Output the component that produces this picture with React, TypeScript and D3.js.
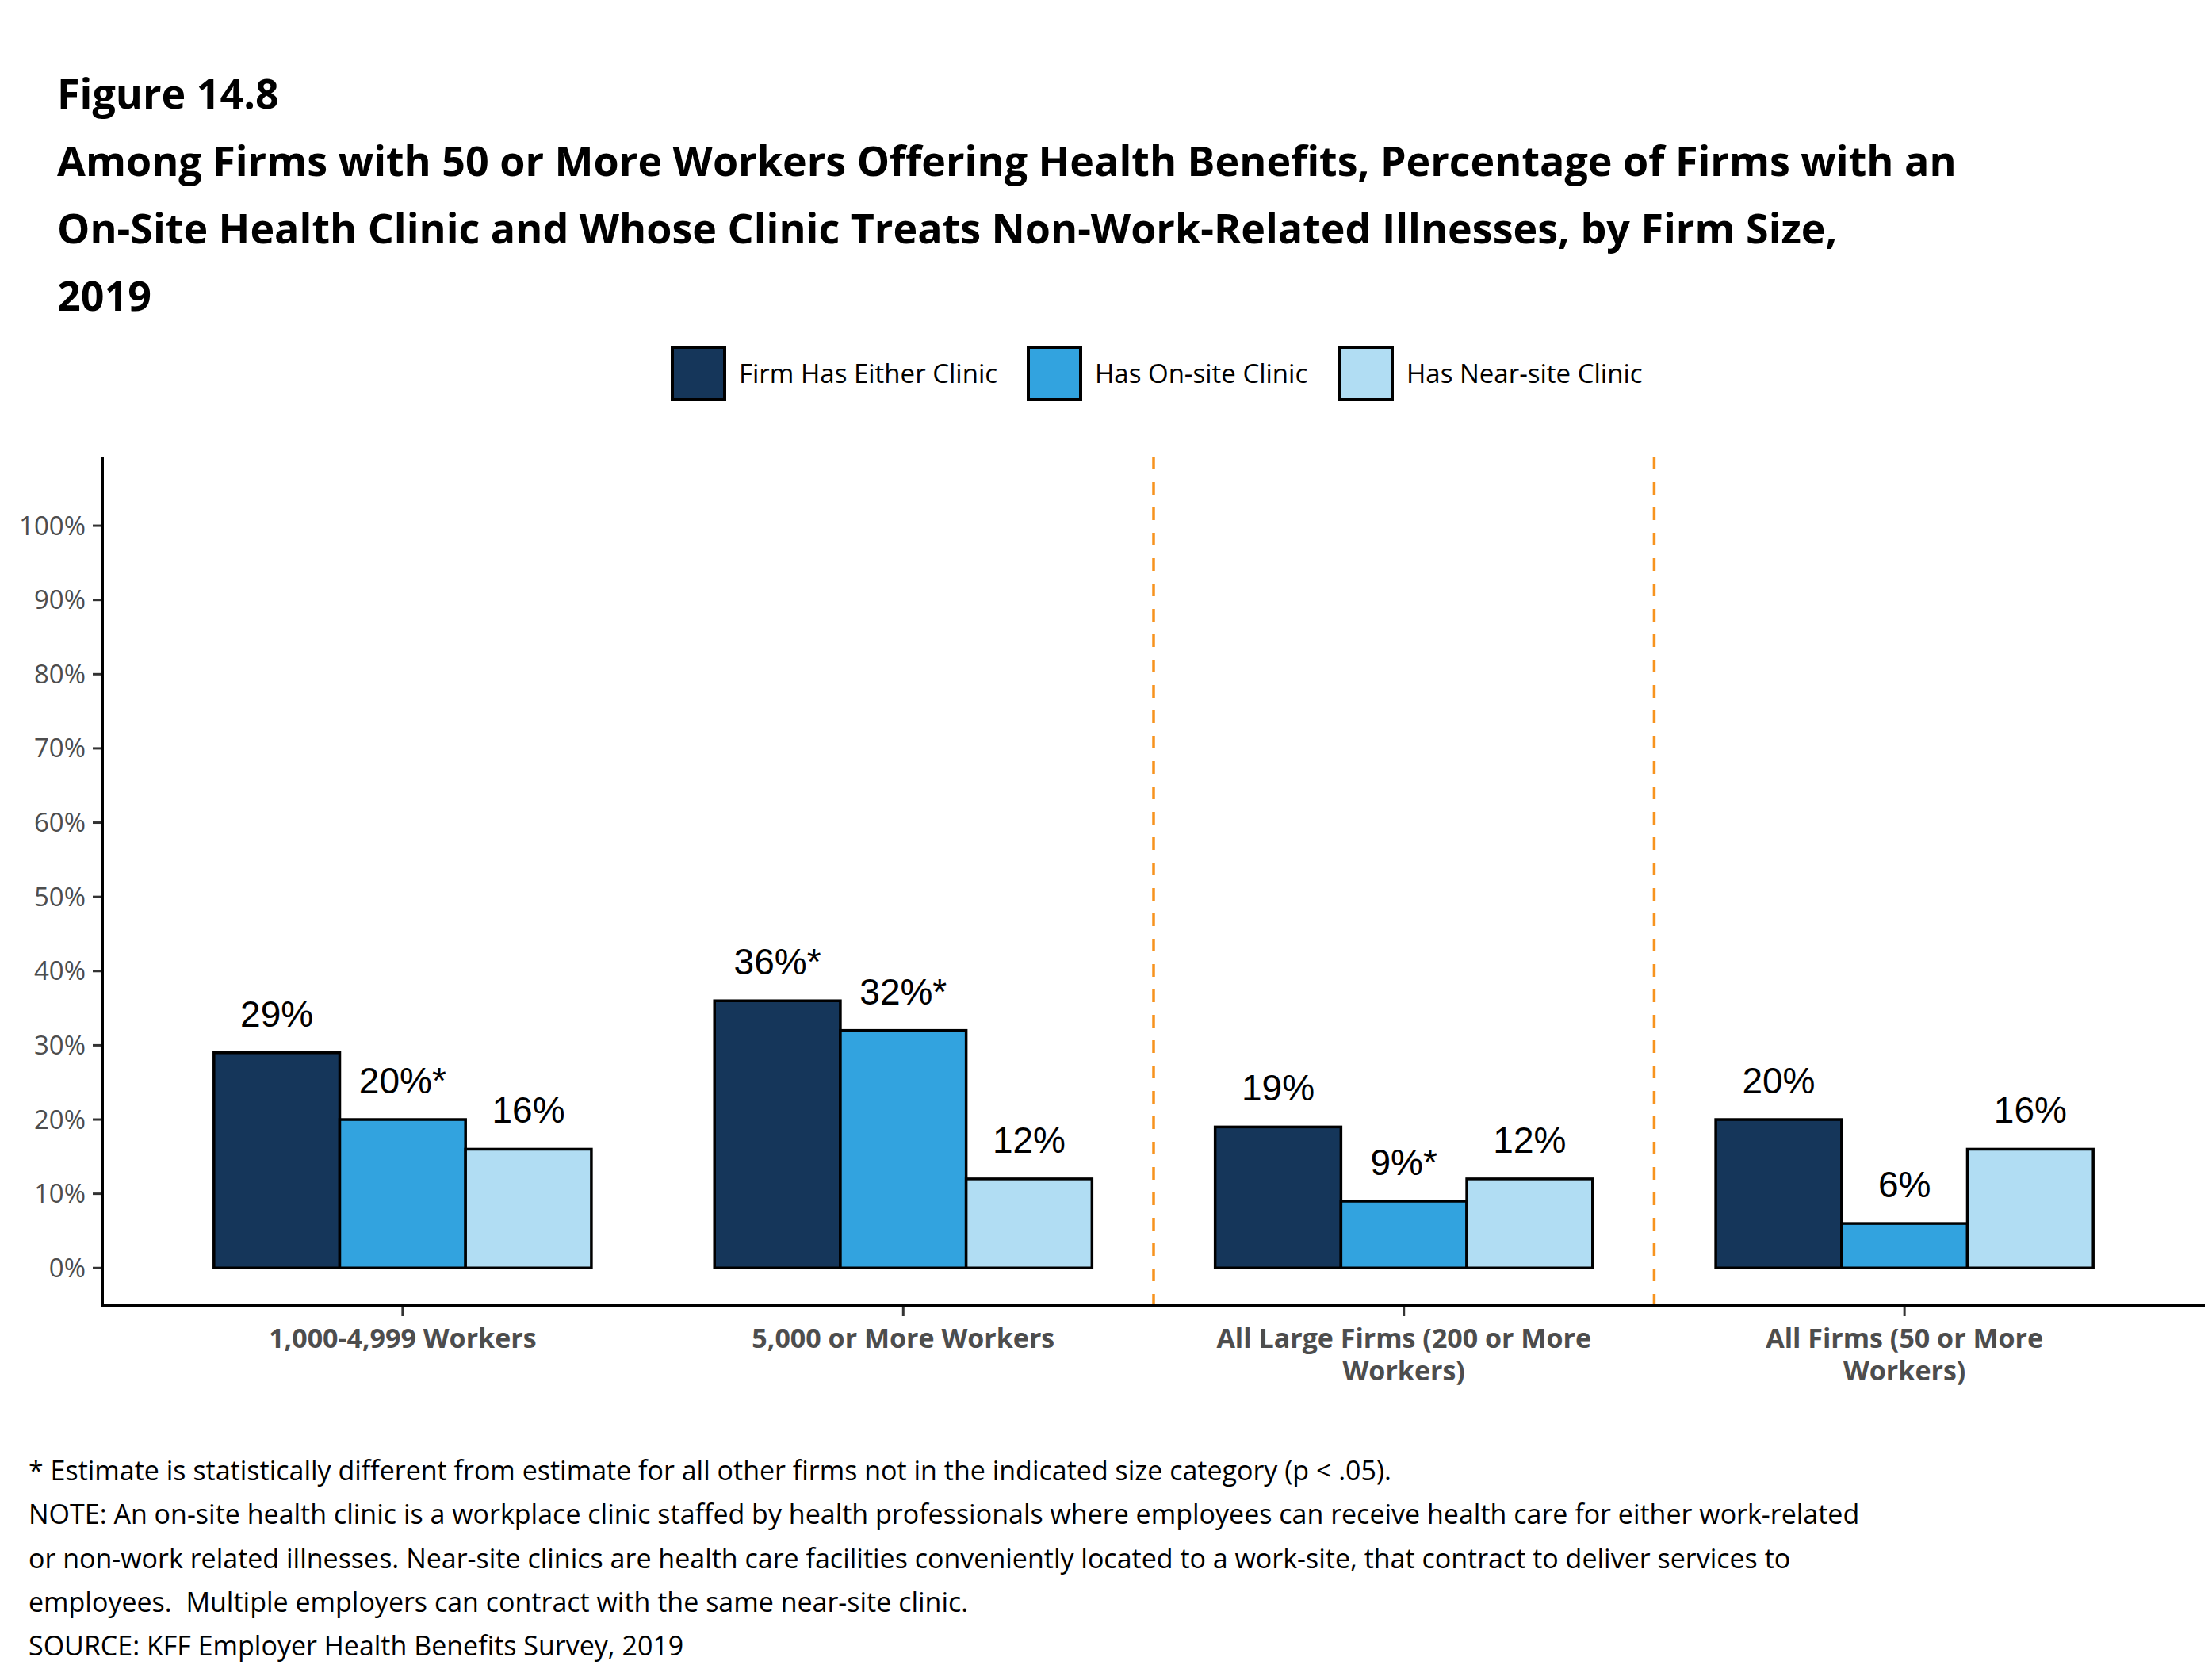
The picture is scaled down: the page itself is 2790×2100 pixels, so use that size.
import * as d3 from 'd3'

const categories = [
  '1,000-4,999 Workers',
  '5,000 or More Workers',
  'All Large Firms (200 or More Workers)',
  'All Firms (50 or More Workers)',
]
const categoryLines = [
  ['1,000-4,999 Workers'],
  ['5,000 or More Workers'],
  ['All Large Firms (200 or More', 'Workers)'],
  ['All Firms (50 or More', 'Workers)'],
]
const seriesNames = ['Firm Has Either Clinic', 'Has On-site Clinic', 'Has Near-site Clinic']
const eitherClinic = [29, 36, 19, 20]
const onSiteClinic = [20, 32, 9, 6]
const nearSiteClinic = [16, 12, 12, 16]
const eitherSig = [false, true, false, false]
const onSiteSig = [true, true, true, false]
const nearSiteSig = [false, false, false, false]
const yTicks = [0, 10, 20, 30, 40, 50, 60, 70, 80, 90, 100]
// dashed separators after these categories
const dividerAfter = ['5,000 or More Workers', 'All Large Firms (200 or More Workers)']
const colors = ['#15365a', '#32a3df', '#b1ddf3']

const titleLines = [
  'Figure 14.8',
  'Among Firms with 50 or More Workers Offering Health Benefits, Percentage of Firms with an',
  'On-Site Health Clinic and Whose Clinic Treats Non-Work-Related Illnesses, by Firm Size,',
  '2019',
]
const noteLines = [
  '* Estimate is statistically different from estimate for all other firms not in the indicated size category (p < .05).',
  'NOTE: An on-site health clinic is a workplace clinic staffed by health professionals where employees can receive health care for either work-related',
  'or non-work related illnesses. Near-site clinics are health care facilities conveniently located to a work-site, that contract to deliver services to',
  'employees.  Multiple employers can contract with the same near-site clinic.',
  'SOURCE: KFF Employer Health Benefits Survey, 2019',
]

const W = 2790
const H = 2100
const FONT = '"Open Sans", sans-serif'

export default function App() {
  const left = 129
  const right = 2781
  const top = 576
  const bottom = 1647

  const x = d3.scalePoint<string>().domain(categories).range([left, right]).padding(0.6)
  const step = x.step()
  const groupW = step * 0.754
  const xs = d3.scaleBand<number>().domain([0, 1, 2]).range([-groupW / 2, groupW / 2])
  const y = d3.scaleLinear().domain([-5.1, 109.3]).range([bottom, top])

  const series = [
    { values: eitherClinic, sig: eitherSig },
    { values: onSiteClinic, sig: onSiteSig },
    { values: nearSiteClinic, sig: nearSiteSig },
  ]

  const legendX = [846, 1295, 1688]

  return (
    <svg
      width={W}
      height={H}
      viewBox={`0 0 ${W} ${H}`}
      style={{ position: 'absolute', left: 0, top: 0, background: '#fff' }}
    >
      <rect x={0} y={0} width={W} height={H} fill="#fff" />

      {/* title */}
      {titleLines.map((t, i) => (
        <text
          key={i}
          x={72}
          y={137 + i * 85}
          fontFamily={FONT}
          fontWeight={700}
          fontSize={52}
          fill="#000"
        >
          {t}
        </text>
      ))}

      {/* legend */}
      {seriesNames.map((s, i) => (
        <g key={s} transform={`translate(${legendX[i]},436)`}>
          <rect x={2} y={2} width={66} height={66} fill={colors[i]} stroke="#000" strokeWidth={4} />
          <text x={86} y={35} dy="0.35em" fontFamily={FONT} fontSize={33} fill="#000">
            {s}
          </text>
        </g>
      ))}

      {/* y ticks */}
      {yTicks.map(t => (
        <g key={t}>
          <line x1={left - 12} x2={left} y1={y(t)} y2={y(t)} stroke="#333" strokeWidth={3} />
          <text
            x={left - 21}
            y={y(t)}
            dy="0.35em"
            textAnchor="end"
            fontFamily={FONT}
            fontSize={33}
            fill="#4d4d4d"
          >
            {t}%
          </text>
        </g>
      ))}

      {/* dividers */}
      {dividerAfter.map(c => {
        const i = categories.indexOf(c)
        const xm = ((x(categories[i]) ?? 0) + (x(categories[i + 1]) ?? 0)) / 2
        return (
          <line
            key={c}
            x1={xm}
            x2={xm}
            y1={top}
            y2={bottom}
            stroke="#f7931e"
            strokeWidth={3.5}
            strokeDasharray="16 16"
          />
        )
      })}

      {/* bars */}
      {categories.map((c, ci) => (
        <g key={c} transform={`translate(${x(c)},0)`}>
          {series.map((s, si) => {
            const v = s.values[ci]
            const bx = xs(si) ?? 0
            return (
              <g key={si}>
                <rect
                  x={bx}
                  y={y(v)}
                  width={xs.bandwidth()}
                  height={y(0) - y(v)}
                  fill={colors[si]}
                  stroke="#000"
                  strokeWidth={3.5}
                />
                <text
                  x={bx + xs.bandwidth() / 2}
                  y={y(v) - 33}
                  textAnchor="middle"
                  fontFamily='"Liberation Sans", Arial, sans-serif'
                  fontSize={46}
                  fill="#000"
                >
                  {`${v}%${s.sig[ci] ? '*' : ''}`}
                </text>
              </g>
            )
          })}
        </g>
      ))}

      {/* x ticks */}
      {categories.map((c, ci) => (
        <g key={c}>
          <line x1={x(c)} x2={x(c)} y1={bottom} y2={bottom + 13} stroke="#333" strokeWidth={3} />
          {categoryLines[ci].map((l, li) => (
            <text
              key={li}
              x={x(c)}
              y={1700 + li * 41}
              textAnchor="middle"
              fontFamily={FONT}
              fontWeight={700}
              fontSize={34}
              fill="#4d4d4d"
            >
              {l}
            </text>
          ))}
        </g>
      ))}

      {/* axes */}
      <line x1={left} x2={left} y1={top} y2={bottom + 2} stroke="#000" strokeWidth={4} />
      <line x1={left - 2} x2={right} y1={bottom} y2={bottom} stroke="#000" strokeWidth={4} />

      {/* notes */}
      {noteLines.map((t, i) => (
        <text
          key={i}
          x={36}
          y={1867 + i * 55.3}
          fontFamily={FONT}
          fontSize={34}
          fill="#000"
          style={{ whiteSpace: 'pre' }}
        >
          {t}
        </text>
      ))}
    </svg>
  )
}
